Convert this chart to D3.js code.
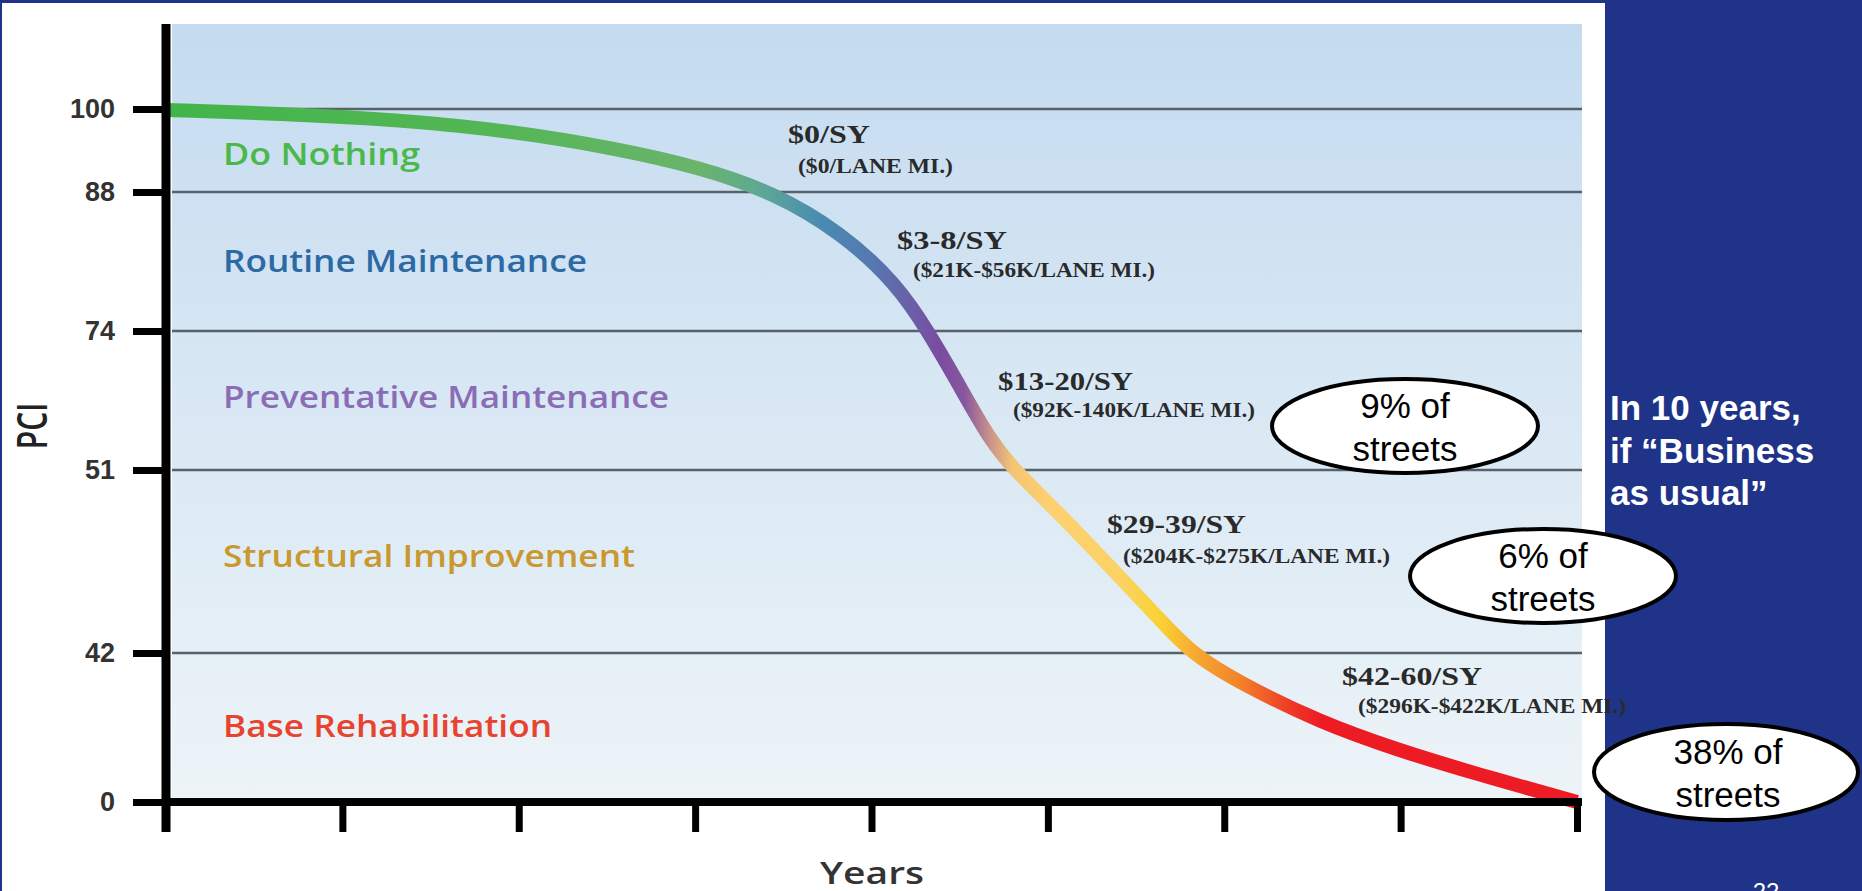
<!DOCTYPE html>
<html>
<head>
<meta charset="utf-8">
<script src="https://cdn.jsdelivr.net/npm/d3@7"></script>
<style>
  html, body { margin: 0; padding: 0; background: #ffffff; }
  svg { display: block; }
</style>
</head>
<body>
<svg id="chart" width="1862" height="891"></svg>
<script>
// Pavement condition (PCI) deterioration over the life of a street
const years = [0, 0.65, 1.3, 1.97, 2.57, 3.02, 3.44, 3.83, 4.14, 4.32, 4.49, 4.67, 4.81, 5.05, 5.39, 5.63, 5.81, 6.09, 6.54, 6.98, 7.43, 8];
const pci   = [99.85, 99.35, 98.5, 96.8, 94.2, 91.6, 88, 83.9, 78.8, 74, 65.4, 56.0, 51, 49.0, 45.9, 43.7, 42, 33.5, 22.5, 14.7, 7.9, 0];

// Condition thresholds shown on the PCI axis
const pciTicks = [0, 42, 51, 74, 88, 100];
const yearTicks = [0, 1, 2, 3, 4, 5, 6, 7, 8];

// Treatment bands, top to bottom
const treatments = ["Do Nothing", "Routine Maintenance", "Preventative Maintenance", "Structural Improvement", "Base Rehabilitation"];

// Unit costs for each treatment
const costPerSY   = ["$0/SY", "$3-8/SY", "$13-20/SY", "$29-39/SY", "$42-60/SY"];
const costPerMile = ["($0/LANE MI.)", "($21K-$56K/LANE MI.)", "($92K-140K/LANE MI.)", "($204K-$275K/LANE MI.)", "($296K-$422K/LANE MI.)"];

// Share of streets in the lower bands
const streetShares = ["9%", "6%", "38%"];
const sideNote = ["In 10 years,", "if \u201cBusiness", "as usual\u201d"];

// ---- layout & styling ----
const W = 1862, H = 891;
const plot = { left: 172, right: 1582, top: 24, bottom: 802 };
const axisX = 166;

const treatmentColors = ["#4bb84b", "#2c6aa6", "#8a6db5", "#c9982f", "#e8432e"];
const treatmentBaselines = [165, 272, 408, 567, 737];
const treatmentWidths = [197, 364, 446, 412, 329];

const costLayout = [
  { x1: 788,  y1: 143, w1: 82,  x2: 798,  y2: 173, w2: 155 },
  { x1: 897,  y1: 249, w1: 110, x2: 913,  y2: 277, w2: 242 },
  { x1: 998,  y1: 390, w1: 135, x2: 1013, y2: 417, w2: 242 },
  { x1: 1107, y1: 533, w1: 139, x2: 1123, y2: 563, w2: 267 },
  { x1: 1342, y1: 685, w1: 140, x2: 1358, y2: 713, w2: 268 }
];

const bubbleLayout = [
  { cx: 1405, cy: 426, rx: 133, ry: 47, tx: 1405 },
  { cx: 1543, cy: 576, rx: 133, ry: 47, tx: 1543 },
  { cx: 1726, cy: 772, rx: 132, ry: 48, tx: 1728 }
];

// colour of the deterioration curve along the years
const curveStops = [
  [0.03, "#41b549"], [1.89, "#55b656"], [3.03, "#6ab46c"], [3.37, "#5ea894"],
  [3.71, "#4a8bb2"], [3.99, "#5579b0"], [4.19, "#6763a9"], [4.39, "#7a4c9f"],
  [4.53, "#87589f"], [4.67, "#c9928a"], [4.80, "#f3c574"], [5.01, "#fdd070"],
  [5.41, "#fcd264"], [5.63, "#f9d334"], [5.86, "#f6a530"], [6.09, "#f2822a"],
  [6.37, "#ee3b27"], [6.54, "#ed1c24"], [8.0, "#ed1c24"]
];

const svg = d3.select("#chart");
const defs = svg.append("defs");

// scales: the PCI axis spaces its thresholds unevenly
const x = d3.scaleLinear().domain([0, 8]).range([axisX, 1577]);
const y = d3.scaleLinear().domain(pciTicks).range([802, 653, 470, 331, 192, 109]);

// page background and frame
svg.append("rect").attr("width", W).attr("height", H).attr("fill", "#ffffff");
svg.append("rect").attr("x", 0).attr("y", 0).attr("width", W).attr("height", 3).attr("fill", "#1f3388");
svg.append("rect").attr("x", 0).attr("y", 0).attr("width", 2).attr("height", H).attr("fill", "#1f3388");
svg.append("rect").attr("x", 1605).attr("y", 0).attr("width", W - 1605).attr("height", H).attr("fill", "#1f3388");

// plot background
const bg = defs.append("linearGradient").attr("id", "plotBg")
  .attr("x1", 0).attr("y1", 0).attr("x2", 0).attr("y2", 1);
bg.append("stop").attr("offset", 0).attr("stop-color", "#c4dbf0");
bg.append("stop").attr("offset", 0.5).attr("stop-color", "#d9e8f4");
bg.append("stop").attr("offset", 1).attr("stop-color", "#edf4f8");
svg.append("rect")
  .attr("x", plot.left).attr("y", plot.top)
  .attr("width", plot.right - plot.left).attr("height", plot.bottom - plot.top)
  .attr("fill", "url(#plotBg)");

// threshold gridlines
svg.append("g").selectAll("line")
  .data(pciTicks.filter(d => d > 0))
  .join("line")
  .attr("x1", plot.left).attr("x2", plot.right)
  .attr("y1", d => y(d)).attr("y2", d => y(d))
  .attr("stroke", "#59626b").attr("stroke-width", 2.5);

// treatment band names
svg.append("g").selectAll("text")
  .data(treatments)
  .join("text")
  .attr("x", 223)
  .attr("y", (d, i) => treatmentBaselines[i])
  .attr("textLength", (d, i) => treatmentWidths[i])
  .attr("lengthAdjust", "spacingAndGlyphs")
  .attr("font-family", "'Open Sans', 'Noto Sans', sans-serif")
  .attr("font-weight", 600)
  .attr("font-size", 30)
  .attr("fill", (d, i) => treatmentColors[i])
  .text(d => d);

// deterioration curve with colour shifting along the years
const grad = defs.append("linearGradient").attr("id", "curveGrad")
  .attr("gradientUnits", "userSpaceOnUse")
  .attr("x1", x(0)).attr("y1", 0).attr("x2", x(8)).attr("y2", 0);
grad.selectAll("stop").data(curveStops).join("stop")
  .attr("offset", d => d[0] / 8)
  .attr("stop-color", d => d[1]);

const line = d3.line()
  .x((d, i) => x(years[i]))
  .y(d => y(d))
  .curve(d3.curveBasis);

svg.append("path")
  .attr("d", line(pci))
  .attr("fill", "none")
  .attr("stroke", "url(#curveGrad)")
  .attr("stroke-width", 14)
  .attr("stroke-linecap", "butt");

// axes
const yAxis = d3.axisLeft(y).tickValues(pciTicks).tickSize(33).tickPadding(18).tickSizeOuter(0);
const yG = svg.append("g").attr("transform", `translate(${axisX},0)`).call(yAxis);
yG.select(".domain").remove();
yG.selectAll(".tick line").attr("stroke", "#000").attr("stroke-width", 7);
yG.selectAll(".tick text")
  .attr("font-family", "'Liberation Sans', Arial, sans-serif")
  .attr("font-weight", "bold")
  .attr("font-size", 27)
  .attr("fill", "#333");

const xAxis = d3.axisBottom(x).tickValues(yearTicks).tickSize(30).tickFormat("").tickSizeOuter(0);
const xG = svg.append("g").attr("transform", `translate(0,${y(0)})`).call(xAxis);
xG.select(".domain").remove();
xG.selectAll(".tick line").attr("stroke", "#000").attr("stroke-width", 7);

// axis lines
svg.append("line")
  .attr("x1", axisX).attr("x2", axisX)
  .attr("y1", plot.top).attr("y2", y(0) + 30)
  .attr("stroke", "#000").attr("stroke-width", 9);
svg.append("line")
  .attr("x1", axisX).attr("x2", plot.right)
  .attr("y1", y(0)).attr("y2", y(0))
  .attr("stroke", "#000").attr("stroke-width", 8);

// axis titles
svg.append("text")
  .attr("transform", "translate(32,426) scale(1.4,1) rotate(-90)")
  .attr("y", 10.7)
  .attr("text-anchor", "middle")
  .attr("font-family", "'Open Sans', 'Noto Sans', sans-serif")
  .attr("font-weight", 600)
  .attr("font-size", 30)
  .attr("fill", "#222")
  .text("PCI");

svg.append("text")
  .attr("x", 820).attr("y", 884)
  .attr("textLength", 104).attr("lengthAdjust", "spacingAndGlyphs")
  .attr("font-family", "'Open Sans', 'Noto Sans', sans-serif")
  .attr("font-weight", 600)
  .attr("font-size", 31)
  .attr("fill", "#333")
  .text("Years");

// treatment costs
const costG = svg.append("g")
  .attr("font-family", "'Liberation Serif', 'DejaVu Serif', serif")
  .attr("font-weight", "bold")
  .attr("fill", "#2a2a2a");
costG.selectAll("text.sy").data(costPerSY).join("text")
  .attr("class", "sy")
  .attr("x", (d, i) => costLayout[i].x1)
  .attr("y", (d, i) => costLayout[i].y1)
  .attr("textLength", (d, i) => costLayout[i].w1)
  .attr("lengthAdjust", "spacingAndGlyphs")
  .attr("font-size", 26)
  .text(d => d);
costG.selectAll("text.mi").data(costPerMile).join("text")
  .attr("class", "mi")
  .attr("x", (d, i) => costLayout[i].x2)
  .attr("y", (d, i) => costLayout[i].y2)
  .attr("textLength", (d, i) => costLayout[i].w2)
  .attr("lengthAdjust", "spacingAndGlyphs")
  .attr("font-size", 22)
  .text(d => d);

// street share bubbles
const bubbles = svg.append("g").selectAll("g")
  .data(streetShares)
  .join("g");
bubbles.append("ellipse")
  .attr("cx", (d, i) => bubbleLayout[i].cx)
  .attr("cy", (d, i) => bubbleLayout[i].cy)
  .attr("rx", (d, i) => bubbleLayout[i].rx)
  .attr("ry", (d, i) => bubbleLayout[i].ry)
  .attr("fill", "#ffffff")
  .attr("stroke", "#000")
  .attr("stroke-width", 4);
bubbles.append("text")
  .attr("x", (d, i) => bubbleLayout[i].tx)
  .attr("y", (d, i) => bubbleLayout[i].cy - 8)
  .attr("text-anchor", "middle")
  .attr("font-family", "'Liberation Sans', Arial, sans-serif")
  .attr("font-size", 35)
  .attr("fill", "#000")
  .text(d => d + " of");
bubbles.append("text")
  .attr("x", (d, i) => bubbleLayout[i].tx)
  .attr("y", (d, i) => bubbleLayout[i].cy + 35)
  .attr("text-anchor", "middle")
  .attr("font-family", "'Liberation Sans', Arial, sans-serif")
  .attr("font-size", 35)
  .attr("fill", "#000")
  .text("streets");

// side note
svg.append("g").selectAll("text")
  .data(sideNote)
  .join("text")
  .attr("x", 1610)
  .attr("y", (d, i) => 420 + i * 42.5)
  .attr("font-family", "'Liberation Sans', Arial, sans-serif")
  .attr("font-weight", "bold")
  .attr("font-size", 35)
  .attr("fill", "#ffffff")
  .text(d => d);

// slide number
svg.append("text")
  .attr("x", 1766).attr("y", 900)
  .attr("text-anchor", "middle")
  .attr("font-family", "'Liberation Sans', Arial, sans-serif")
  .attr("font-size", 24)
  .attr("fill", "#ffffff")
  .text("22");
</script>
</body>
</html>
